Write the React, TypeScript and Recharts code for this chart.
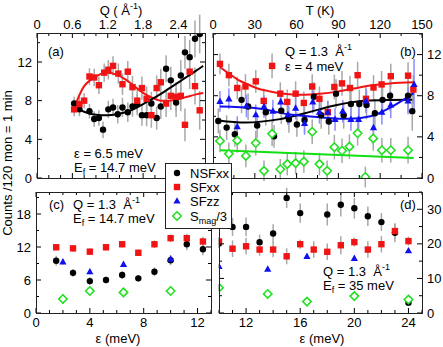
import React from 'react';
import { ComposedChart, Scatter, Line, XAxis, YAxis, ErrorBar } from 'recharts';

const FONT = '"Liberation Sans", Arial, Helvetica, sans-serif';
const GRAY = '#a8a8a8';
const RED = '#f01414';
const BLUE = '#1010f0';
const GREEN = '#22e022';

// ---------- panel (a): Q scan, eps = 6.5 meV
const qNsfA = [0.63, 0.72, 0.89, 0.97, 1.05, 1.12, 1.21, 1.29, 1.37, 1.45, 1.54, 1.62, 1.7, 1.78, 1.86, 1.94, 2.03, 2.1, 2.19, 2.27, 2.36, 2.44, 2.51, 2.59, 2.68, 2.76];
const nsfA = [7.7, 7.1, 6.9, 6.1, 6.2, 5.0, 7.1, 7.3, 6.6, 7.3, 6.8, 7.4, 7.6, 6.5, 6.5, 7.7, 6.2, 7.4, 11.3, 10.1, 7.8, 10.6, 13.0, 12.5, 14.4, 14.9];
const nsfAErr = [0.7, 0.7, 0.75, 0.8, 0.8, 0.85, 0.9, 0.9, 0.95, 1.0, 1.0, 1.05, 1.1, 1.1, 1.15, 1.2, 1.2, 1.3, 1.4, 1.4, 1.5, 1.6, 1.7, 1.8, 1.9, 2.0];
const qSfxxA = [0.63, 0.72, 0.8, 0.89, 0.97, 1.05, 1.14, 1.21, 1.29, 1.38, 1.45, 1.54, 1.62, 1.7, 1.78, 1.86, 1.94, 2.03, 2.1, 2.19, 2.27, 2.36, 2.44, 2.51, 2.59, 2.68, 2.76];
const sfxxA = [7.1, 7.65, 8.0, 10.5, 10.4, 9.6, 10.9, 11.2, 11.6, 10.8, 9.7, 11.0, 9.4, 8.0, 9.3, 8.2, 6.5, 9.3, 9.9, 7.7, 8.5, 8.4, 8.5, 5.5, 11.0, 9.5, 7.0];
const sfxxAErr = [0.7, 0.75, 0.8, 0.85, 0.9, 0.9, 0.95, 1.0, 1.0, 1.05, 1.1, 1.1, 1.15, 1.2, 1.2, 1.25, 1.3, 1.3, 1.4, 1.4, 1.5, 1.5, 1.6, 1.7, 1.8, 1.9, 2.0];
const qFitA = [0.63, 0.7, 0.8, 0.9, 1.0, 1.1, 1.2, 1.35, 1.5, 1.65, 1.8, 1.95, 2.1, 2.25, 2.4, 2.55, 2.7, 2.82];
const sfxxFitA = [7.2, 8.3, 9.5, 10.1, 10.5, 10.8, 10.9, 10.7, 10.2, 9.5, 8.8, 8.3, 8.0, 8.0, 8.15, 8.4, 8.65, 8.8];
const nsfFitA = [7.4, 7.15, 6.85, 6.65, 6.55, 6.5, 6.5, 6.6, 6.8, 7.15, 7.65, 8.15, 8.7, 9.3, 9.9, 10.5, 11.1, 11.6];

// ---------- panel (b): T scan, Q = 1.3, eps = 4 meV
const tSfxxB = [5, 11.4, 17.4, 23.3, 30.7, 36.4, 42.4, 48.3, 53.3, 59.3, 65.2, 71.2, 76.4, 82.4, 87.1, 92.6, 98.3, 103.8, 109.8, 115.2, 121, 127.6, 140, 143.8];
const sfxxB = [11.1, 10.0, 8.75, 8.9, 9.4, 7.5, 10.9, 8.2, 7.4, 8.2, 7.3, 8.9, 7.7, 6.4, 8.85, 9.2, 8.75, 10.0, 7.7, 8.8, 9.1, 9.9, 9.95, 8.6];
const sfxxBErr = [1.0, 1.1, 1.1, 1.2, 1.1, 1.2, 1.2, 1.1, 1.2, 1.2, 1.1, 1.2, 1.2, 1.1, 1.2, 1.2, 1.2, 1.3, 1.2, 1.2, 1.3, 1.2, 1.3, 1.4];
const tNsfB = [3.8, 9.8, 15.7, 20.5, 25.2, 31.7, 37.9, 43.8, 49, 54.5, 60.2, 65.7, 72.4, 77.6, 83.1, 88.3, 93.8, 99, 105, 110.2, 116.2, 121.7, 127.1, 140, 143];
const nsfB = [5.55, 4.9, 4.25, 7.6, 6.95, 5.1, 6.4, 4.05, 6.55, 5.7, 5.2, 5.65, 7.9, 6.1, 5.5, 8.2, 6.1, 7.2, 7.2, 7.1, 6.3, 7.6, 8.0, 8.0, 6.5];
const nsfBErr = [1.2, 1.2, 1.2, 1.3, 1.3, 1.2, 1.3, 1.1, 1.3, 1.3, 1.2, 1.3, 1.4, 1.3, 1.3, 1.4, 1.3, 1.4, 1.4, 1.4, 1.4, 1.5, 1.5, 1.6, 1.9];
const tSfzzB = [5, 11.4, 17.4, 24, 30.7, 36.6, 43, 48.6, 53.8, 59.3, 65.7, 71.6, 76.4, 82.4, 87.6, 93.1, 99, 104.5, 109.8, 115.2, 121.2, 127.6, 140, 144.3];
const sfzzB = [7.45, 7.7, 5.0, 7.0, 6.15, 6.95, 6.5, 7.4, 6.15, 6.8, 5.3, 7.4, 6.4, 6.4, 5.7, 6.5, 5.7, 5.7, 7.5, 4.9, 6.4, 7.1, 7.5, 9.1];
const sfzzBErr = [1.0, 1.0, 1.0, 1.1, 1.0, 1.1, 1.1, 1.1, 1.0, 1.1, 1.1, 1.1, 1.1, 1.1, 1.1, 1.1, 1.1, 1.2, 1.2, 1.2, 1.2, 1.3, 1.3, 2.5];
const tMagB = [5, 11.4, 17.4, 23.6, 30.7, 36.6, 42.4, 48.3, 53.3, 59.3, 65.2, 71.2, 76.4, 81.9, 87.1, 92.6, 97.9, 103.8, 109.3, 115, 121.2, 127.6, 140];
const magB = [3.6, 2.35, 3.65, 2.15, 3.4, 0.7, 4.3, 0.85, 1.35, 1.45, 1.6, 4.5, 1.35, 0.7, 3.0, 2.65, 3.05, 4.35, 0.1, 3.85, 2.7, 2.7, 2.7];
const magBErr = [1.1, 1.1, 1.2, 1.1, 1.2, 1.0, 1.2, 1.0, 1.1, 1.1, 1.1, 1.2, 1.1, 1.0, 1.2, 1.2, 1.2, 1.2, 1.0, 1.2, 1.2, 1.2, 1.3];
const tSfxxFitB = [5, 12, 18, 25, 32, 40, 47, 57, 66, 77, 89, 101, 113, 127, 144];
const sfxxFitB = [10.8, 10.1, 9.55, 9.1, 8.7, 8.45, 8.26, 8.12, 8.1, 8.2, 8.4, 8.7, 9.0, 9.2, 9.3];
const tNsfFitB = [4, 23, 47, 66, 89, 109, 125, 143];
const nsfFitB = [5.6, 5.4, 5.7, 6.3, 7.1, 7.5, 7.58, 7.6];
const tSfzzFitB = [5, 30, 54, 77, 97, 113, 128, 144];
const sfzzFitB = [6.95, 6.8, 6.2, 5.9, 5.75, 6.0, 6.9, 8.25];
const tMagFitB = [5, 144];
const magFitB = [2.7, 1.95];

// ---------- panel (c): energy scan, Ef = 14.7 meV
const eC = [1.5, 2.75, 4, 5.2, 6.4, 7.6, 8.8, 10, 11.2, 12.4];
const sfxxC = [11.95, 11.75, 11.15, 11.95, 12.5, 10.95, 12.5, 13.6, 13.6, 13.0];
const sfxxCErr = [0.6, 0.6, 0.6, 0.6, 0.6, 0.6, 0.7, 0.7, 0.8, 0.8];
const nsfC = [9.5, 7.3, 5.8, 6.0, 6.9, 6.3, 7.5, 9.6, 12.5, 11.6];
const nsfCErr = [0.9, 0.7, 0.7, 0.6, 0.7, 0.6, 0.8, 0.9, 1.1, 1.1];
const ePolC = [2, 4, 6.5, 10];
const sfzzC = [9.3, 7.5, 8.85, 9.8];
const sfzzCErr = [0.5, 0.5, 0.5, 0.6];
const magC = [2.55, 4.0, 3.75, 4.0];
const magCErr = [0.9, 0.8, 0.8, 0.8];

// ---------- panel (d): energy scan, Ef = 35 meV
const eNsfD = [10, 11, 12, 13, 14, 15, 16, 18, 19, 20, 21, 22, 23, 24];
const nsfD = [20.1, 24.9, 24.9, 20.5, 23.0, 33.3, 28.9, 28.5, 31.3, 30.3, 28.0, 26.3, 23.2, 3.0];
const nsfDErr = [1.3, 2.6, 2.7, 2.2, 2.7, 2.9, 2.8, 3.2, 3.4, 3.0, 2.8, 2.6, 2.7, 1.0];
const eSfxxD = [10, 11, 12, 13, 14, 15, 16, 17, 18, 19, 20, 21, 22, 23, 24];
const sfxxD = [20.7, 18.6, 19.3, 18.35, 18.35, 16.4, 19.9, 18.35, 17.7, 19.6, 20.5, 18.35, 19.9, 23.7, 20.8];
const sfxxDErr = [1.2, 2.4, 2.4, 1.8, 2.2, 2.3, 1.3, 2.4, 2.4, 2.6, 1.3, 2.4, 2.4, 2.2, 1.3];
const ePolD = [10, 13.6, 16.5, 20, 24];
const sfzzD = [13.5, 12.7, 16.4, 15.8, 18.0];
const sfzzDErr = [0.6, 0.6, 0.6, 0.6, 0.6];
const magD = [7.3, 5.5, 3.3, 4.9, 3.9];
const magDErr = [1.0, 1.0, 1.0, 1.0, 1.0];

// ---------- ticks
const qTicks = [0, 0.2, 0.4, 0.6, 0.8, 1, 1.2, 1.4, 1.6, 1.8, 2, 2.2, 2.4, 2.6, 2.8];
const qMajor = [0, 0.6, 1.2, 1.8, 2.4];
const aYTicks = [0, 2, 4, 6, 8, 10, 12, 14];
const aYMajor = [0, 4, 8, 12];
const tTicks = [0, 15, 30, 45, 60, 75, 90, 105, 120, 135, 150];
const tMajor = [0, 30, 60, 90, 120, 150];
const cXTicks = [0, 1, 2, 3, 4, 5, 6, 7, 8, 9, 10, 11, 12, 13];
const cXMajor = [0, 4, 8, 12];
const cYTicks = [0, 3, 6, 9, 12, 15, 18, 21];
const cYMajor = [0, 6, 12, 18];
const dXTicks = [10, 11, 12, 13, 14, 15, 16, 17, 18, 19, 20, 21, 22, 23, 24, 25];
const dXMajor = [12, 16, 20, 24];
const dYTicks = [0, 5, 10, 15, 20, 25, 30, 35];
const dYMajor = [0, 10, 20, 30];

type Box = { L: number; T: number; W: number; H: number };
const PW = 443;
const PH = 347;
const boxA: Box = { L: 37, T: 33, W: 168, H: 145 };
const boxB: Box = { L: 213, T: 33, W: 209, H: 145 };
const boxC: Box = { L: 36, T: 192, W: 175, H: 121 };
const boxD: Box = { L: 219, T: 192, W: 203, H: 121 };

const pts = (xs: number[], ys: number[], es?: number[]) =>
  xs.map((x, i) => ({ x, y: ys[i], e: es ? es[i] : 0 }));

const xTick = (b: Box, majors: number[], side: 'top' | 'bottom') => (props: any) => {
  const { x, payload } = props;
  const v = payload.value;
  const major = majors.includes(v);
  const len = major ? 5 : 3;
  const bot = b.T + b.H;
  return (
    <g>
      <line x1={x} x2={x} y1={b.T} y2={b.T + len} stroke="#000" />
      <line x1={x} x2={x} y1={bot} y2={bot - len} stroke="#000" />
      {major && (
        <text x={x} y={side === 'top' ? b.T - 4 : bot + 14} textAnchor="middle" fontSize={13} fontFamily={FONT} fill="#000">
          {v}
        </text>
      )}
    </g>
  );
};

const yTick = (b: Box, majors: number[], side: 'left' | 'right') => (props: any) => {
  const { y, payload } = props;
  const v = payload.value;
  const major = majors.includes(v);
  const len = major ? 5 : 3;
  const r = b.L + b.W;
  return (
    <g>
      <line x1={b.L} x2={b.L + len} y1={y} y2={y} stroke="#000" />
      <line x1={r} x2={r - len} y1={y} y2={y} stroke="#000" />
      {major && (
        <text
          x={side === 'left' ? b.L - 5 : r + 5}
          y={y + 4.5}
          textAnchor={side === 'left' ? 'end' : 'start'}
          fontSize={13}
          fontFamily={FONT}
          fill="#000"
        >
          {v}
        </text>
      )}
    </g>
  );
};

const Circle = (color: string) => (p: any) => <circle cx={p.cx} cy={p.cy} r={3.2} fill={color} />;
const Square = (color: string) => (p: any) => <rect x={p.cx - 3.2} y={p.cy - 3.2} width={6.4} height={6.4} fill={color} />;
const Tri = (color: string) => (p: any) => (
  <polygon points={`${p.cx},${p.cy - 3.8} ${p.cx - 3.6},${p.cy + 2.6} ${p.cx + 3.6},${p.cy + 2.6}`} fill={color} />
);
const Diamond = (color: string) => (p: any) => (
  <polygon
    points={`${p.cx},${p.cy - 4.2} ${p.cx + 4.2},${p.cy} ${p.cx},${p.cy + 4.2} ${p.cx - 4.2},${p.cy}`}
    fill="#fff"
    stroke={color}
    strokeWidth={1.6}
  />
);
const Nothing = () => <g />;

type Series = { data: any[]; shape: (p: any) => any; errColor: string };
type Fit = { data: any[]; color: string };

const Panel = ({
  box, xDomain, yDomain, xTicks, xMajor, xSide, yTicks, yMajor, ySide, series, fits,
}: {
  box: Box; xDomain: number[]; yDomain: number[]; xTicks: number[]; xMajor: number[]; xSide: 'top' | 'bottom';
  yTicks: number[]; yMajor: number[]; ySide: 'left' | 'right'; series: Series[]; fits: Fit[];
}) => {
  // axes are 1px thick, so the margins leave that pixel for them
  const below = PH - box.T - box.H;
  const margin = {
    top: box.T - (xSide === 'top' ? 1 : 0),
    bottom: below - (xSide === 'bottom' ? 1 : 0),
    left: box.L - (ySide === 'left' ? 1 : 0),
    right: PW - box.L - box.W - (ySide === 'right' ? 1 : 0),
  };
  return (
    <div style={{ position: 'absolute', left: 0, top: 0 }}>
      <ComposedChart width={PW} height={PH} margin={margin}>
        <XAxis
          dataKey="x"
          type="number"
          orientation={xSide}
          domain={xDomain}
          allowDataOverflow
          ticks={xTicks}
          interval={0}
          height={1}
          axisLine={false}
          tickLine={false}
          tick={xTick(box, xMajor, xSide)}
        />
        <YAxis
          dataKey="y"
          type="number"
          orientation={ySide}
          domain={yDomain}
          allowDataOverflow
          ticks={yTicks}
          interval={0}
          width={1}
          axisLine={false}
          tickLine={false}
          tick={yTick(box, yMajor, ySide)}
        />
        {series.map((s, i) => (
          <Scatter key={'e' + i} data={s.data} shape={Nothing} isAnimationActive={false}>
            <ErrorBar dataKey="e" direction="y" width={0} stroke={s.errColor} strokeWidth={1.5} />
          </Scatter>
        ))}
        {fits.map((f, i) => (
          <Line
            key={'f' + i}
            data={f.data}
            dataKey="y"
            type="monotone"
            stroke={f.color}
            strokeWidth={2}
            dot={false}
            activeDot={false}
            isAnimationActive={false}
          />
        ))}
        {series.map((s, i) => (
          <Scatter key={'s' + i} data={s.data} shape={s.shape} isAnimationActive={false} />
        ))}
      </ComposedChart>
    </div>
  );
};

const Frame = ({ b }: { b: Box }) => (
  <div
    style={{
      position: 'absolute', left: b.L, top: b.T, width: b.W + 1, height: b.H + 1,
      border: '1px solid #222', boxSizing: 'border-box', pointerEvents: 'none',
    }}
  />
);

const T = ({ x, b, c, children }: { x: number; b: number; c?: boolean; children: any }) => (
  <div
    style={{
      position: 'absolute', left: x, top: b - 10, fontSize: 13, lineHeight: '11px', fontFamily: FONT,
      whiteSpace: 'nowrap', color: '#000', transform: c ? 'translateX(-50%)' : undefined,
    }}
  >
    {children}
  </div>
);
const Sup = ({ children }: { children: any }) => (
  <span style={{ fontSize: 9, position: 'relative', top: -6, lineHeight: '9px' }}>{children}</span>
);
const Sub = ({ children }: { children: any }) => (
  <span style={{ fontSize: 9, position: 'relative', top: 3, lineHeight: '9px' }}>{children}</span>
);

const LegendRow = ({ y, shape, label }: { y: number; shape: any; label: any }) => (
  <div style={{ position: 'absolute', left: 0, top: y, height: 12, width: 64 }}>
    <svg width={20} height={14} style={{ position: 'absolute', left: 4, top: -1 }}>
      {shape({ cx: 7, cy: 7 })}
    </svg>
    <div style={{ position: 'absolute', left: 24, top: 1, fontSize: 13, lineHeight: '11px', fontFamily: FONT, whiteSpace: 'nowrap' }}>
      {label}
    </div>
  </div>
);

export default function App() {
  return (
    <div style={{ position: 'absolute', left: 0, top: 0, width: PW, height: PH, background: '#fff', overflow: 'hidden' }}>
      <Panel
        box={boxA} xDomain={[0, 2.85]} yDomain={[0, 15]} xTicks={qTicks} xMajor={qMajor} xSide="top"
        yTicks={aYTicks} yMajor={aYMajor} ySide="left"
        series={[
          { data: pts(qNsfA, nsfA, nsfAErr), shape: Circle('#000'), errColor: GRAY },
          { data: pts(qSfxxA, sfxxA, sfxxAErr), shape: Square(RED), errColor: GRAY },
        ]}
        fits={[
          { data: pts(qFitA, sfxxFitA), color: RED },
          { data: pts(qFitA, nsfFitA), color: '#000' },
        ]}
      />
      <Panel
        box={boxB} xDomain={[0, 150]} yDomain={[0, 14.1]} xTicks={tTicks} xMajor={tMajor} xSide="top"
        yTicks={aYTicks} yMajor={aYMajor} ySide="right"
        series={[
          { data: pts(tNsfB, nsfB, nsfBErr), shape: Circle('#000'), errColor: GRAY },
          { data: pts(tSfxxB, sfxxB, sfxxBErr), shape: Square(RED), errColor: GRAY },
          { data: pts(tSfzzB, sfzzB, sfzzBErr), shape: Tri(BLUE), errColor: '#8c8cff' },
          { data: pts(tMagB, magB, magBErr), shape: Diamond(GREEN), errColor: GRAY },
        ]}
        fits={[
          { data: pts(tSfxxFitB, sfxxFitB), color: RED },
          { data: pts(tNsfFitB, nsfFitB), color: '#000' },
          { data: pts(tSfzzFitB, sfzzFitB), color: BLUE },
          { data: pts(tMagFitB, magFitB), color: '#10e010' },
        ]}
      />
      <Panel
        box={boxC} xDomain={[0, 13]} yDomain={[0, 22]} xTicks={cXTicks} xMajor={cXMajor} xSide="bottom"
        yTicks={cYTicks} yMajor={cYMajor} ySide="left"
        series={[
          { data: pts(eC, nsfC, nsfCErr), shape: Circle('#000'), errColor: GRAY },
          { data: pts(eC, sfxxC, sfxxCErr), shape: Square(RED), errColor: GRAY },
          { data: pts(ePolC, sfzzC, sfzzCErr), shape: Tri(BLUE), errColor: GRAY },
          { data: pts(ePolC, magC, magCErr), shape: Diamond(GREEN), errColor: GRAY },
        ]}
        fits={[]}
      />
      <Panel
        box={boxD} xDomain={[10, 25]} yDomain={[0, 35]} xTicks={dXTicks} xMajor={dXMajor} xSide="bottom"
        yTicks={dYTicks} yMajor={dYMajor} ySide="right"
        series={[
          { data: pts(eNsfD, nsfD, nsfDErr), shape: Circle('#000'), errColor: GRAY },
          { data: pts(eSfxxD, sfxxD, sfxxDErr), shape: Square(RED), errColor: GRAY },
          { data: pts(ePolD, sfzzD, sfzzDErr), shape: Tri(BLUE), errColor: GRAY },
          { data: pts(ePolD, magD, magDErr), shape: Diamond(GREEN), errColor: GRAY },
        ]}
        fits={[]}
      />
      <Frame b={boxA} />
      <Frame b={boxB} />
      <Frame b={boxC} />
      <Frame b={boxD} />

      {/* axis titles */}
      <T x={121} b={15} c>Q ( Å<Sup>-1</Sup>)</T>
      <T x={320} b={15} c>T (K)</T>
      <T x={118} b={343} c>ε (meV)</T>
      <T x={322} b={343} c>ε (meV)</T>
      <div
        style={{
          position: 'absolute', left: 8 - 90, top: 163 - 8, width: 180, height: 16, textAlign: 'center',
          fontSize: 13, lineHeight: '16px', fontFamily: FONT, transform: 'rotate(-90deg)', whiteSpace: 'nowrap',
        }}
      >
        Counts /120 mon = 1 min
      </div>

      {/* annotations */}
      <T x={48} b={56}>(a)</T>
      <T x={74} b={158}>ε = 6.5 meV</T>
      <T x={74} b={172}>E<Sub>f</Sub> = 14.7 meV</T>
      <T x={285} b={56}>Q = 1.3 &nbsp;Å<Sup>-1</Sup></T>
      <T x={285} b={71}>ε = 4 meV</T>
      <T x={400} b={56}>(b)</T>
      <T x={49} b={209}>(c)</T>
      <T x={73} b={209}>Q = 1.3 &nbsp;Å<Sup>-1</Sup></T>
      <T x={73} b={223}>E<Sub>f</Sub> = 14.7 meV</T>
      <T x={400} b={209}>(d)</T>
      <T x={323} b={276}>Q = 1.3 &nbsp;Å<Sup>-1</Sup></T>
      <T x={323} b={290}>E<Sub>f</Sub> = 35 meV</T>

      {/* legend */}
      <div
        style={{
          position: 'absolute', left: 165, top: 163, width: 67, height: 66, background: '#fff',
          border: '1px solid #222', boxSizing: 'border-box',
        }}
      >
        <LegendRow y={3} shape={Circle('#000')} label="NSFxx" />
        <LegendRow y={17} shape={Square(RED)} label="SFxx" />
        <LegendRow y={31} shape={Tri(BLUE)} label="SFzz" />
        <LegendRow y={46} shape={Diamond(GREEN)} label={<span>S<Sub>mag</Sub>/3</span>} />
      </div>
    </div>
  );
}
